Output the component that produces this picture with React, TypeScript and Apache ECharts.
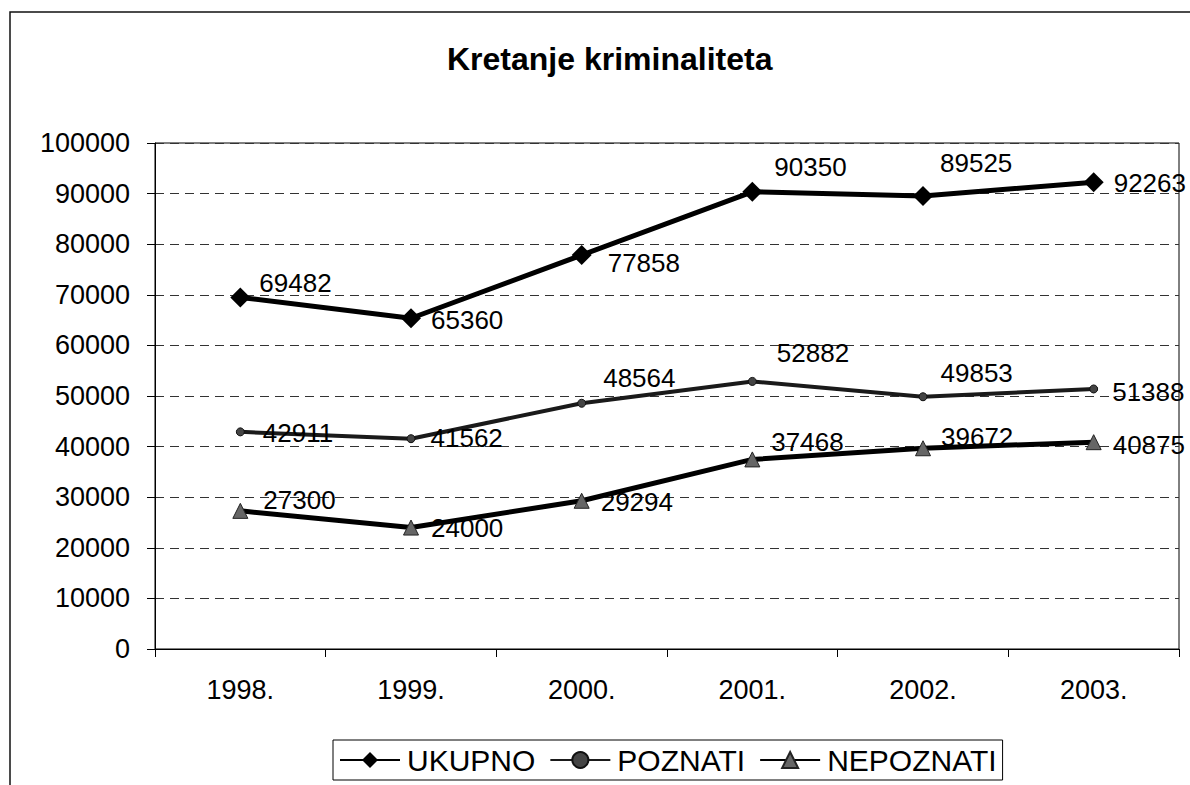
import React, { useEffect, useRef } from "react";
import * as echarts from "echarts";

const title = "Kretanje kriminaliteta";
const categories = ["1998.", "1999.", "2000.", "2001.", "2002.", "2003."];
const seriesNames = ["UKUPNO", "POZNATI", "NEPOZNATI"];
const ukupno = [69482, 65360, 77858, 90350, 89525, 92263];
const poznati = [42911, 41562, 48564, 52882, 49853, 51388];
const nepoznati = [27300, 24000, 29294, 37468, 39672, 40875];

// label offsets (style only) relative to the 'right' position of each marker
const ukupnoLabelOffsets = [[9, -14], [10, 2], [16, 8], [12, -25], [7, -33], [10, 1]];
const poznatiLabelOffsets = [[18, 1], [15, -1], [17, -25], [20, -28], [13, -24], [14, 3]];
const nepoznatiLabelOffsets = [[15, -11], [12, 0], [11, 1], [11, -17], [10, -11], [11, 3]];

const FONT = "'Liberation Sans', Arial, Helvetica, sans-serif";

function withLabels(values: number[], offsets: number[][]) {
  return values.map((v, i) => ({ value: v, label: { offset: offsets[i] } }));
}

export default function App() {
  const ref = useRef<HTMLDivElement>(null);
  useEffect(() => {
    if (!ref.current) return;
    const chart = echarts.init(ref.current, null, { renderer: "svg" });
    const labelBase = {
      show: true,
      position: "right",
      distance: 0,
      color: "#000",
      fontSize: 26,
      fontFamily: FONT,
    };
    chart.setOption({
      animation: false,
      backgroundColor: "#fff",
      title: {
        text: title,
        left: 442,
        top: 38,
        textStyle: { fontSize: 32, fontWeight: "bold", color: "#000", fontFamily: FONT },
      },
      graphic: [
        {
          type: "rect",
          shape: { x: 10, y: 12, width: 1300, height: 900 },
          style: { fill: "none", stroke: "#111", lineWidth: 1.5 },
          silent: true,
        },
      ],
      legend: {
        left: 333,
        top: 740,
        padding: [5, 6],
        itemGap: 14,
        itemWidth: 60,
        itemHeight: 20,
        borderColor: "#000",
        borderWidth: 1,
        textStyle: { fontSize: 30, color: "#000", fontFamily: FONT, padding: [0, 0, 0, 2] },
        data: seriesNames,
      },
      grid: {
        left: 155,
        top: 143,
        right: 11,
        bottom: 136,
        show: true,
        borderColor: "#000",
        borderWidth: 1,
        backgroundColor: "transparent",
      },
      xAxis: {
        type: "category",
        data: categories,
        boundaryGap: true,
        axisLine: { lineStyle: { color: "#000", width: 1 } },
        axisTick: { show: true, length: 8, lineStyle: { color: "#000" } },
        axisLabel: { fontSize: 27, color: "#000", fontFamily: FONT, margin: 27 },
        splitLine: { show: false },
      },
      yAxis: {
        type: "value",
        min: 0,
        max: 100000,
        interval: 10000,
        axisLine: { show: true, lineStyle: { color: "#000", width: 1 } },
        axisTick: { show: true, length: 8, lineStyle: { color: "#000" } },
        axisLabel: {
          fontSize: 27,
          color: "#000",
          fontFamily: FONT,
          margin: 25,
          formatter: (v: number) => String(v),
        },
        splitLine: { show: true, lineStyle: { color: "#333", type: [9, 6], width: 1 } },
      },
      series: [
        {
          name: seriesNames[0],
          type: "line",
          data: withLabels(ukupno, ukupnoLabelOffsets),
          symbol: "diamond",
          symbolSize: 20,
          lineStyle: { color: "#000", width: 5 },
          itemStyle: { color: "#000" },
          label: labelBase,
          z: 4,
        },
        {
          name: seriesNames[1],
          type: "line",
          data: withLabels(poznati, poznatiLabelOffsets),
          symbol: "circle",
          symbolSize: 8,
          lineStyle: { color: "#1a1a1a", width: 4 },
          itemStyle: { color: "#444", borderColor: "#111", borderWidth: 1 },
          label: labelBase,
          z: 3,
        },
        {
          name: seriesNames[2],
          type: "line",
          data: withLabels(nepoznati, nepoznatiLabelOffsets),
          symbol: "triangle",
          symbolSize: 15,
          lineStyle: { color: "#000", width: 5 },
          itemStyle: { color: "#666", borderColor: "#222", borderWidth: 1 },
          label: labelBase,
          z: 3,
        },
      ],
    });
    return () => chart.dispose();
  }, []);
  return (
    <div
      ref={ref}
      style={{ position: "fixed", left: 0, top: 0, width: 1190, height: 785, background: "#fff" }}
    />
  );
}
